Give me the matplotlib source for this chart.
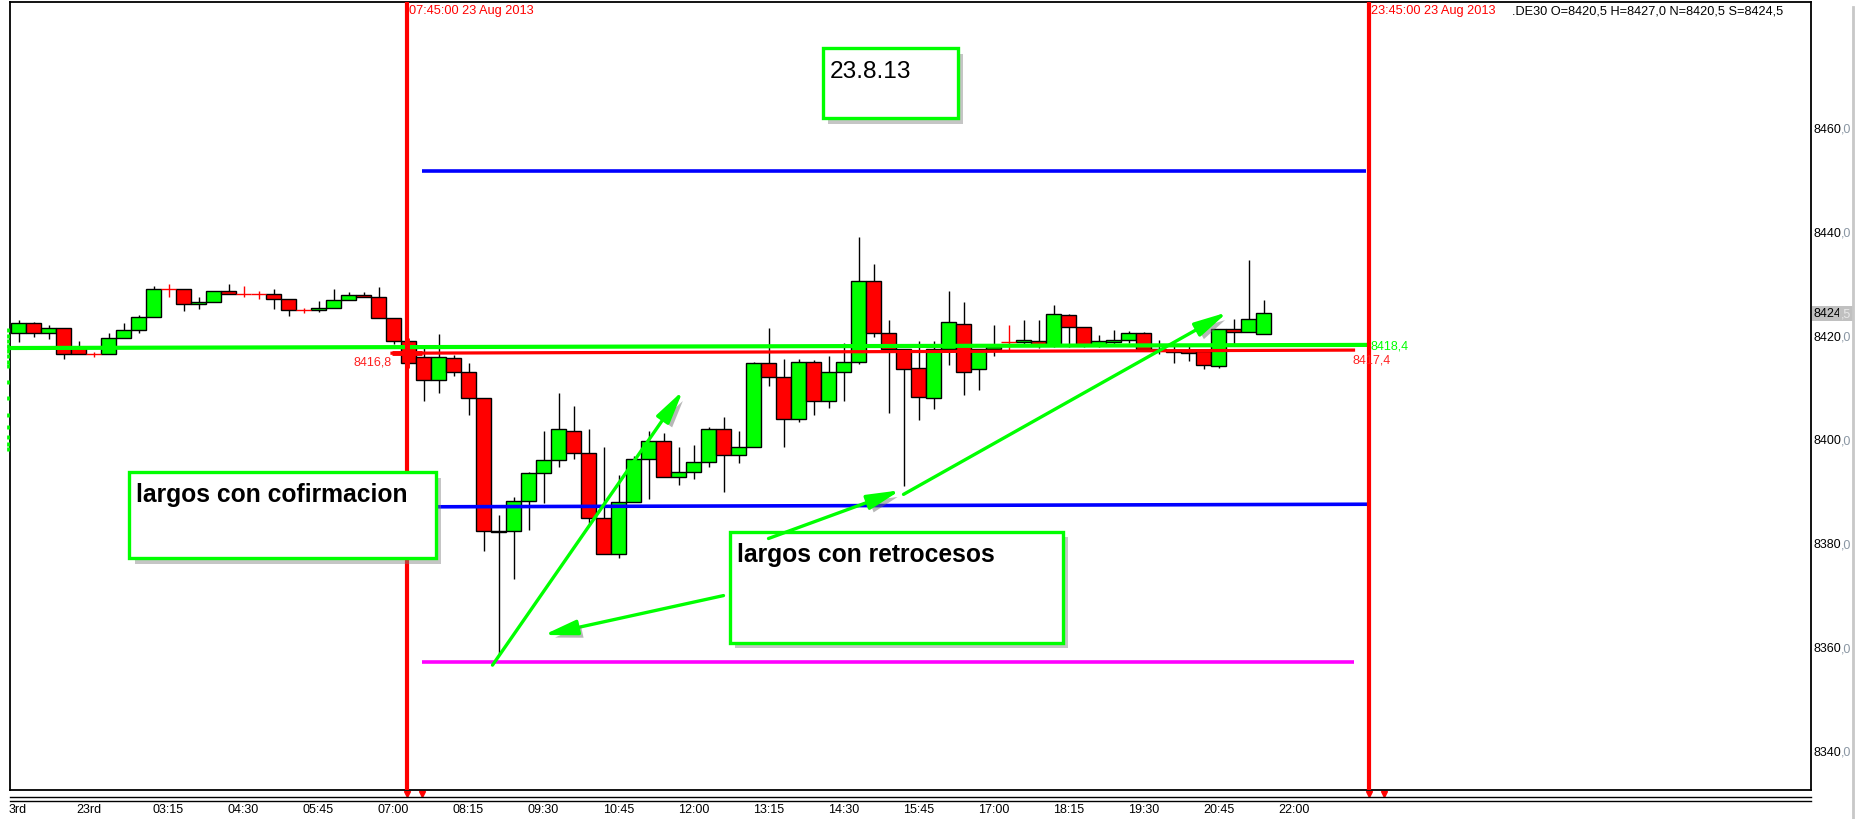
import matplotlib
matplotlib.use("Agg")
import matplotlib.pyplot as plt
import matplotlib.patheffects as pe
from matplotlib.patches import Rectangle, FancyArrowPatch
import numpy as np

# ---------------- data (15-minute candles, .DE30, 23 Aug 2013) ----------------
opens = [8420.7, 8422.6, 8420.7, 8421.6, 8417.9, 8416.6, 8416.6, 8419.7, 8421.3, 8423.7,
         8429.1, 8429.1, 8426.2, 8426.6, 8428.7, 8428.2, 8428.2, 8428.2, 8427.2, 8425.1,
         8425.1, 8425.6, 8427.0, 8428.0, 8427.6, 8423.5, 8419.1, 8416.0, 8411.6, 8415.8,
         8413.1, 8408.1, 8382.3, 8382.6, 8388.3, 8393.7, 8396.2, 8401.8, 8397.5, 8385.0,
         8378.1, 8388.1, 8396.4, 8399.8, 8393.0, 8393.9, 8395.8, 8402.2, 8397.2, 8398.7,
         8415.0, 8412.2, 8404.1, 8415.2, 8407.6, 8413.1, 8415.2, 8430.8, 8420.6, 8417.6,
         8413.9, 8408.1, 8417.6, 8422.4, 8413.7, 8417.6, 8418.9, 8418.9, 8419.1, 8418.4,
         8424.1, 8421.8, 8418.3, 8419.0, 8419.3, 8420.6, 8417.7, 8417.4, 8417.2, 8417.3,
         8414.3, 8421.5, 8420.9, 8420.5]
highs = [8423.2, 8422.8, 8422.2, 8421.6, 8419.2, 8417.0, 8420.7, 8422.6, 8424.2, 8429.7,
         8430.1, 8429.1, 8427.6, 8428.7, 8430.1, 8429.7, 8428.8, 8429.1, 8427.2, 8425.6,
         8426.8, 8429.1, 8428.6, 8428.5, 8429.6, 8423.5, 8419.1, 8418.2, 8420.5, 8416.5,
         8415.0, 8408.1, 8385.6, 8389.0, 8394.0, 8401.8, 8409.1, 8406.6, 8402.2, 8398.8,
         8393.3, 8397.0, 8401.8, 8401.4, 8398.7, 8399.1, 8402.5, 8404.6, 8401.9, 8415.2,
         8421.6, 8415.7, 8415.6, 8415.5, 8416.3, 8418.7, 8439.2, 8434.0, 8423.2, 8417.6,
         8419.2, 8419.2, 8428.7, 8426.6, 8417.6, 8422.2, 8422.2, 8423.2, 8423.2, 8426.0,
         8424.3, 8421.8, 8420.4, 8421.3, 8421.0, 8420.9, 8419.3, 8418.9, 8418.4, 8417.5,
         8421.5, 8423.4, 8434.8, 8427.0]
lows = [8419.0, 8420.0, 8419.5, 8415.6, 8416.6, 8416.1, 8416.6, 8419.7, 8420.7, 8423.7,
        8427.6, 8425.0, 8425.3, 8426.6, 8428.2, 8427.6, 8427.3, 8425.3, 8424.0, 8424.5,
        8424.7, 8425.6, 8427.0, 8427.6, 8423.5, 8418.5, 8415.0, 8407.5, 8409.1, 8412.5,
        8404.8, 8378.6, 8358.8, 8373.2, 8382.8, 8388.0, 8394.9, 8396.5, 8384.0, 8378.1,
        8377.3, 8388.1, 8388.7, 8393.0, 8391.5, 8392.5, 8394.9, 8390.0, 8395.6, 8398.7,
        8410.5, 8398.7, 8403.5, 8404.8, 8406.2, 8407.5, 8414.7, 8420.0, 8405.2, 8391.2,
        8404.0, 8406.0, 8414.5, 8408.8, 8409.8, 8416.3, 8417.2, 8418.4, 8417.8, 8418.0,
        8418.0, 8418.0, 8418.0, 8418.5, 8418.8, 8417.6, 8416.7, 8415.0, 8415.3, 8413.7,
        8414.0, 8418.2, 8420.9, 8420.5]
closes = [8422.6, 8420.7, 8421.6, 8416.6, 8416.6, 8416.6, 8419.7, 8421.3, 8423.7, 8429.1,
          8429.1, 8426.2, 8426.6, 8428.7, 8428.2, 8428.2, 8428.2, 8427.2, 8425.1, 8425.1,
          8425.6, 8427.0, 8428.0, 8427.6, 8423.5, 8419.1, 8415.0, 8411.6, 8416.0, 8413.1,
          8408.1, 8382.6, 8382.6, 8388.3, 8393.7, 8396.2, 8402.2, 8397.5, 8385.0, 8378.1,
          8388.1, 8396.4, 8399.8, 8393.0, 8393.9, 8395.8, 8402.2, 8397.2, 8398.7, 8415.0,
          8412.2, 8404.1, 8415.2, 8407.6, 8413.1, 8415.2, 8430.8, 8420.6, 8417.6, 8413.8,
          8408.3, 8417.6, 8422.8, 8413.1, 8417.6, 8418.0, 8418.9, 8419.3, 8418.4, 8424.3,
          8421.8, 8418.3, 8419.1, 8419.3, 8420.6, 8417.6, 8417.4, 8417.0, 8416.8, 8414.6,
          8421.5, 8420.9, 8423.4, 8424.5]

xtick_pos = [-0.05, 4.69, 10, 15, 20, 25, 30, 35, 40, 45, 50, 55, 60, 65, 70, 75, 80, 85]
xtick_labels = ['3rd', '23rd', '03:15', '04:30', '05:45', '07:00', '08:15', '09:30', '10:45',
                '12:00', '13:15', '14:30', '15:45', '17:00', '18:15', '19:30', '20:45', '22:00']
ytick_values = [8340, 8360, 8380, 8400, 8420, 8440, 8460]
last_price = 8424.5

# session markers (bar index) and their labels
session_x = [25.9, 90.0]
session_labels = ['07:45:00 23 Aug 2013', '23:45:00 23 Aug 2013']
title_text = '.DE30 O=8420,5 H=8427,0 N=8420,5 S=8424,5'

# levels
level_x0 = 26.9
blue_high = 8452.0
blue_low = (8387.2, 8387.7)
magenta_low = 8357.3
red_trend = ((24.9, 8416.8), (89.0, 8417.4))
green_trend = ((-0.6, 8417.8), (90.0, 8418.4))
left_marks = [8421.2, 8420.2, 8419.2, 8418.2, 8417.2, 8416.2, 8415.2, 8414.3,
              8411.3, 8408.1, 8404.9, 8402.5, 8400.6, 8399.3, 8398.3]

# annotations: arrows (start, end) and text boxes
arrows = [((31.6, 8356.7), (44.3, 8409.6)),
          ((47.0, 8370.1), (35.0, 8362.5)),
          ((50.0, 8381.1), (58.8, 8390.4)),
          ((59.0, 8389.6), (80.6, 8424.7))]
boxes = [  # x0, y0, x1, y1, text, weight, text_x, text_baseline, size
    (53.6, 8462.1, 62.6, 8475.6, '23.8.13', 'normal', 54.1, 8470.0, 17.6),
    (7.37, 8377.3, 27.8, 8393.9, 'largos con cofirmacion', 'bold', 7.83, 8388.4, 17.7),
    (47.4, 8361.0, 69.6, 8382.4, 'largos con retrocesos', 'bold', 47.88, 8376.8, 17.7),
]

# ---------------- plot ----------------
plt.rcParams['font.family'] = ['Liberation Sans', 'DejaVu Sans']

W, H = 1857, 820
fig = plt.figure(figsize=(W / 100, H / 100), dpi=100)
fig.patch.set_facecolor('white')
ax = fig.add_axes([10 / W, 29 / H, 1801 / W, 788 / H])
ax.set_xlim(-0.567, 119.5)
ax.set_ylim(8332.64, 8484.47)
for s in ax.spines.values():
    s.set_linewidth(1.3)
    s.set_color('black')

o = np.array(opens); h = np.array(highs); l = np.array(lows); c = np.array(closes)
x = np.arange(len(o))
doji = o == c
nd = ~doji
body_col = np.where(c > o, '#00ff00', '#ff0000')

ax.vlines(x[nd], l[nd], h[nd], color='black', lw=1.0, zorder=2)
ax.bar(x[nd], np.abs(c - o)[nd], bottom=np.minimum(o, c)[nd], width=1.0,
       color=body_col[nd], edgecolor='black', linewidth=1.0, zorder=3)
ax.vlines(x[doji], l[doji], h[doji], color='#ff0000', lw=1.0, zorder=3)
ax.hlines(o[doji], x[doji] - 0.5, x[doji] + 0.5, color='#ff0000', lw=1.0, zorder=3)

# horizontal levels
ax.hlines(blue_high, level_x0, 89.8, color='#0000ff', lw=2.6, zorder=4)
ax.plot([level_x0, 89.8], list(blue_low), color='#0000ff', lw=2.6, zorder=4)
ax.hlines(magenta_low, level_x0, 89.0, color='#ff00ff', lw=2.6, zorder=4)
ax.plot([red_trend[0][0], red_trend[1][0]], [red_trend[0][1], red_trend[1][1]],
        color='#ff0000', lw=2.3, zorder=4)
ax.plot([green_trend[0][0], green_trend[1][0]], [green_trend[0][1], green_trend[1][1]],
        color='#00ff00', lw=3.0, zorder=4, clip_on=False)
ax.plot([session_x[0]], [red_trend[0][1]], marker='+', ms=22, mew=3.5, color='#ff0000',
        zorder=5)

ax.text(24.9, 8415.2, '8416,8', color='#ff2020', fontsize=9, ha='right', va='center', zorder=6)
ax.text(88.95, 8415.5, '8417,4', color='#ff2020', fontsize=9, ha='left', va='center', zorder=6)
ax.text(90.1, 8418.2, '8418,4', color='#00ff00', fontsize=9, ha='left', va='center', zorder=6)

# left-edge indicator marks
ax.plot(np.full(len(left_marks), -0.7), left_marks, ls='none', marker='|', ms=3,
        mew=2, color='#00ff00', clip_on=False, zorder=6)

# session vertical lines
for sx, lab in zip(session_x, session_labels):
    ax.axvline(sx, color='#ff0000', lw=3.0, zorder=5)
    ax.annotate(lab, xy=(sx, 1), xycoords=('data', 'axes fraction'), xytext=(2, -8),
                textcoords='offset pixels', ha='left', va='center', color='#ff0000',
                fontsize=9.2, zorder=6)
    for dx in (0, 1.0):
        ax.plot([sx + dx], [-0.005], transform=ax.get_xaxis_transform(), marker='v',
                ms=4, color='#ff0000', clip_on=False, ls='none')

ax.annotate(title_text, xy=(1, 1), xycoords='axes fraction', xytext=(-299, -8),
            textcoords='offset pixels', ha='left', va='center', color='black', fontsize=9.2)

# text boxes
for (x0, y0, x1, y1, txt, wt, tx, ty, fs) in boxes:
    r = Rectangle((x0, y0), x1 - x0, y1 - y0, facecolor='white', edgecolor='#00ff00',
                  lw=2.4, zorder=7,
                  path_effects=[pe.SimplePatchShadow(offset=(4, -4), shadow_rgbFace='#808080',
                                                      alpha=0.45), pe.Normal()])
    ax.add_patch(r)
    ax.text(tx, ty, txt, fontsize=fs, fontweight=wt, ha='left', va='baseline',
            color='black', zorder=7.5)

# arrows
for a, b in arrows:
    ar = FancyArrowPatch(a, b, arrowstyle='-|>,head_length=2.0,head_width=0.45',
                         mutation_scale=10, lw=2.4, color='#00ff00', shrinkA=0, shrinkB=0,
                         zorder=8,
                         path_effects=[pe.SimplePatchShadow(offset=(3, -3),
                                                            shadow_rgbFace='#707070',
                                                            alpha=0.5), pe.Normal()])
    ax.add_patch(ar)

# x axis labels
ax.set_xticks(xtick_pos)
ax.set_xticklabels(xtick_labels)
ax.tick_params(axis='x', length=0, pad=9.5, labelsize=9)
for lab in ax.get_xticklabels():
    lab.set_fontfamily(['Liberation Sans Narrow', 'Liberation Sans'])
ax.set_yticks([])

# double line under the plot
for yy in (-0.0095, -0.0135):
    ax.plot([0, 1], [yy, yy], transform=ax.transAxes, color='black', lw=1.0, clip_on=False)

# y axis labels (right side)
for v in ytick_values:
    t = ax.annotate(f'{v}', xy=(1, v), xycoords=('axes fraction', 'data'), xytext=(2, 0),
                    textcoords='offset pixels', ha='left', va='center', fontsize=9,
                    color='black')
    ax.annotate(',0', xy=(1, 0), xycoords=t, ha='left', va='bottom', fontsize=9,
                color='#8a96a3')
ip, fp = f'{last_price:.1f}'.split('.')
t = ax.annotate(ip, xy=(1, last_price), xycoords=('axes fraction', 'data'), xytext=(2, 0),
                textcoords='offset pixels', ha='left', va='center', fontsize=9,
                color='black', bbox=dict(boxstyle='square,pad=0.12', fc='#c0c0c0', ec='none'))
ax.annotate(',' + fp, xy=(1, 0), xycoords=t, ha='left', va='bottom', fontsize=9,
            color='#e8e8e8', bbox=dict(boxstyle='square,pad=0.12', fc='#c0c0c0', ec='none'))

# scrollbar edge on the far right
fig.add_artist(plt.Line2D([1853 / W, 1853 / W], [0, 0.99], transform=fig.transFigure,
                          color='#c8c8c8', lw=2))

fig.savefig('out.png', dpi=100, facecolor='white')
